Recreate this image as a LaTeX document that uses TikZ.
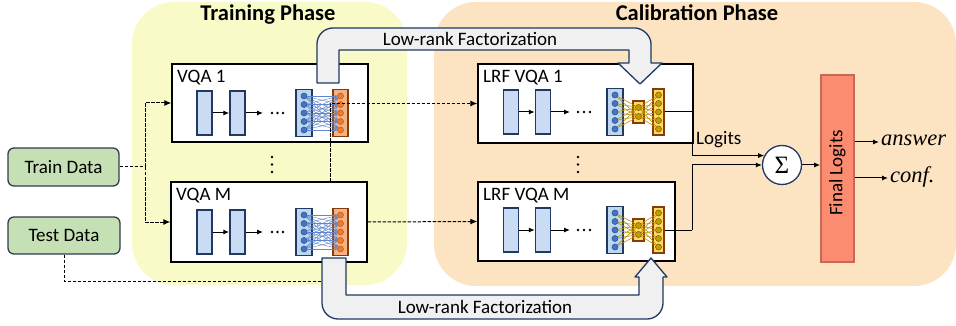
\documentclass[tikz,border=0pt]{standalone}
\usepackage{fontspec}
\setmainfont{Carlito}
\newfontfamily\sigfont{Liberation Serif}
\usetikzlibrary{arrows.meta,calc}

\definecolor{trainbg}{RGB}{248,250,200}
\definecolor{calibbg}{RGB}{252,228,194}
\definecolor{arrowgrey}{RGB}{240,240,240}
\definecolor{navy}{RGB}{31,56,100}
\definecolor{encfill}{RGB}{201,220,244}
\definecolor{layerblue}{RGB}{189,215,238}
\definecolor{dotblue}{RGB}{68,114,196}
\definecolor{dotblueedge}{RGB}{47,85,151}
\definecolor{layerorange}{RGB}{244,177,131}
\definecolor{brownedge}{RGB}{132,60,12}
\definecolor{dotorange}{RGB}{237,125,49}
\definecolor{dotorangeedge}{RGB}{197,90,17}
\definecolor{layergold}{RGB}{255,217,102}
\definecolor{dotgold}{RGB}{201,156,0}
\definecolor{dotgoldedge}{RGB}{127,96,0}
\definecolor{linkgold}{RGB}{191,144,0}
\definecolor{datagreen}{RGB}{197,224,180}
\definecolor{dataedge}{RGB}{50,62,78}
\definecolor{finalfill}{RGB}{252,140,112}
\definecolor{finaledge}{RGB}{196,104,88}

\tikzset{
  txt/.style={font=\fontsize{19}{22}\selectfont, inner sep=0pt},
  ttl/.style={font=\fontsize{22.5}{26}\selectfont\bfseries, inner sep=0pt},
  outtxt/.style={font=\sigfont\itshape\fontsize{22.5}{26}\selectfont, inner sep=0pt},
  datanode/.style={draw=dataedge, fill=datagreen, line width=1.3pt, rounded corners=6pt,
    font=\fontsize{19}{22}\selectfont, inner sep=0pt},
  modelbox/.style={draw=black, fill=white, line width=1.4pt, inner sep=0pt},
  encbox/.style={draw=navy, fill=encfill, line width=1.5pt, minimum width=15pt,
    minimum height=44pt, inner sep=0pt},
  bluelayer/.style={draw=navy, fill=layerblue, line width=1.6pt, minimum width=16pt,
    minimum height=47pt, inner sep=0pt},
  orangelayer/.style={draw=brownedge, fill=layerorange, line width=1.6pt, minimum width=15pt,
    minimum height=47pt, inner sep=0pt},
  goldlayer/.style={draw=brownedge, fill=layergold, line width=1.6pt, minimum width=11pt,
    minimum height=46pt, inner sep=0pt},
  goldmid/.style={goldlayer, minimum height=22pt},
  bluedot/.style={circle, draw=dotblueedge, fill=dotblue, line width=0.6pt, minimum size=6pt, inner sep=0pt},
  orangedot/.style={circle, draw=dotorangeedge, fill=dotorange, line width=0.6pt, minimum size=6pt, inner sep=0pt},
  golddot/.style={circle, draw=dotgoldedge, fill=dotgold, line width=0.6pt, minimum size=6pt, inner sep=0pt},
  bluelink/.style={draw=dotblue!85, line width=0.45pt, -{Stealth[length=2.6pt,width=2.6pt]}},
  goldlink/.style={draw=linkgold, line width=0.6pt},
  flow/.style={draw=black, line width=1pt, -{Latex[length=6pt,width=5pt]}},
  dashflow/.style={draw=black, line width=1pt, dash pattern=on 3.5pt off 1.5pt, -{Latex[length=7pt,width=6pt]}},
  dashline/.style={draw=black, line width=1pt, dash pattern=on 3.5pt off 1.5pt},
  bigarrow/.style={draw=navy, fill=arrowgrey, line width=1.3pt, line join=round},
}

% encoder stack plus the full layer of a VQA model: #1 name prefix, #2 centre y
\newcommand\vqanet[2]{%
  \node[encbox] (#1r1) at (204.5,#2) {};
  \node[encbox] (#1r2) at (237.5,#2) {};
  \draw[flow] (#1r1) -- (#1r2);
  \coordinate (#1e) at (263,#2);
  \draw[flow] (#1r2.east) -- (#1e);
  \foreach \dx in {272,277.5,283} \fill (\dx,#2) circle (1.3pt);
  \node[bluelayer] (#1b) at (304,#2) {};
  \node[orangelayer] (#1o) at (340.5,#2) {};
  \foreach \i in {1,...,5} {
    \node[bluedot] (#1b\i) at ({304},{#2+(\i-3)*8.5}) {};
    \node[orangedot] (#1o\i) at ({340.5},{#2+(\i-3)*8.5}) {};
  }
  \foreach \i in {1,...,5} \foreach \j in {1,...,5} \draw[bluelink] (#1b\i) -- (#1o\j);
}

% encoder stack plus the factorized layer pair of an LRF model
\newcommand\lrfnet[2]{%
  \node[encbox] (#1r1) at (511,#2) {};
  \node[encbox] (#1r2) at (543,#2) {};
  \draw[flow] (#1r1) -- (#1r2);
  \coordinate (#1e) at (570,#2);
  \draw[flow] (#1r2.east) -- (#1e);
  \foreach \dx in {578,584,590} \fill (\dx,#2) circle (1.3pt);
  \node[bluelayer] (#1b) at (615,#2) {};
  \node[goldmid] (#1m) at (638.5,#2) {};
  \node[goldlayer] (#1o) at (658.5,#2) {};
  \foreach \i in {1,...,5} {
    \node[bluedot] (#1b\i) at ({615},{#2+(\i-3)*8.5}) {};
    \node[golddot] (#1o\i) at ({658.5},{#2+(\i-3)*8.5}) {};
  }
  \node[golddot] (#1m1) at ({638.5},{#2-4.5}) {};
  \node[golddot] (#1m2) at ({638.5},{#2+4.5}) {};
  \foreach \i in {1,...,5} \foreach \j in {1,2} {
    \draw[goldlink] (#1b\i) -- (#1m\j);
    \draw[goldlink] (#1m\j) -- (#1o\i);
  }
}

\begin{document}
\begin{tikzpicture}[x=1pt,y=-1pt]
\useasboundingbox (0,0) rectangle (956,326);

% phase backgrounds
\fill[trainbg, rounded corners=42pt] (132,2) rectangle (407,285);
\fill[calibbg, rounded corners=42pt] (434,2) rectangle (956,286);
\node[ttl, anchor=base] (ttrain) at (268,21) {Training Phase};
\node[ttl, anchor=base] (tcalib) at (697,21) {Calibration Phase};

% data sources
\node[datanode, minimum width=111pt, minimum height=38pt] (train) at (63.5,167) {Train Data};
\node[datanode, minimum width=112pt, minimum height=37pt] (test) at (64,235.5) {Test Data};

% models
\node[modelbox, minimum width=196pt, minimum height=78pt] (vqa1) at (270,103) {};
\node[modelbox, minimum width=196pt, minimum height=80pt] (vqaM) at (269,222) {};
\node[modelbox, minimum width=215pt, minimum height=79pt] (lrf1) at (585.5,103.5) {};
\node[modelbox, minimum width=197pt, minimum height=79pt] (lrfM) at (576.5,221.5) {};
\node[txt, anchor=north west] (vqa1lab) at (177,70) {VQA 1};
\node[txt, anchor=north west] (vqaMlab) at (176,188) {VQA M};
\node[txt, anchor=north west] (lrf1lab) at (483,70) {LRF VQA 1};
\node[txt, anchor=north west] (lrfMlab) at (483,188) {LRF VQA M};

\vqanet{va}{113}
\vqanet{vm}{232}
\lrfnet{la}{112}
\lrfnet{lm}{230}

% vertical ellipses between model 1 and model M
\foreach \yy in {157,164.5,172} {
  \fill (272,\yy) circle (1.4pt);
  \fill (578,\yy) circle (1.4pt);
}

% data flow
\coordinate (split) at (145,167);
\draw[dashline] (train.east) -- (split);
\draw[dashflow] (split) |- (vqa1.west);
\draw[dashflow] (split) |- (vqaM.west);
\coordinate (testend) at (330,281);
\draw[dashline] (test.south) |- (testend);
\coordinate (tap) at (330,182);
\draw[dashflow] (tap) |- (lrf1.west);
\draw[dashflow] (vqaM.east) -- (lrfM.west);

% low-rank factorization arrows
\draw[bigarrow] (339,83) -- (339,50) -- (629,50) -- (629,63) -- (618,63) -- (640,84)
  -- (662,63) -- (651,63) -- (651,44) .. controls (651,35.2) and (642.2,28) .. (635,28)
  -- (333,28) .. controls (324.2,28) and (317,35.2) .. (317,44) -- (317,83) -- cycle;
\node[txt] (lrtop) at (470,39) {Low-rank Factorization};
\draw[bigarrow] (346,258) -- (346,295) -- (639,295) -- (639,277) -- (635,277) -- (651,258)
  -- (667,277) -- (663,277) -- (663,303) .. controls (663,311.8) and (655.8,319) .. (647,319)
  -- (338,319) .. controls (329.2,319) and (322,311.8) .. (322,303) -- (322,258) -- cycle;
\node[txt] (lrbot) at (485,306.5) {Low-rank Factorization};

% aggregation
\node[circle, draw=navy, fill=white, line width=1.3pt, minimum size=39pt, inner sep=0pt] (sigma) at (782,165) {};
\node[font=\sigfont\fontsize{25}{28}\selectfont, inner sep=0pt] (sigmasym) at (782,165) {Σ};
\coordinate (j1) at (692,112);
\coordinate (j2) at (692,230);
\draw[draw=black, line width=1pt] (lao.east) -- (j1);
\draw[flow] (j1) |- (sigma.152);
\draw[draw=black, line width=1pt] (lmo.east) -- (j2);
\draw[flow] (j2) |- (sigma.west);
\node[txt, anchor=base west] (logits) at (696,145) {Logits};

\node[draw=finaledge, fill=finalfill, line width=1.6pt, minimum width=33pt, minimum height=187pt,
  inner sep=0pt] (final) at (837.5,168.5) {};
\node[txt, rotate=90] (finallab) at (837.5,173) {Final Logits};
\draw[flow] (sigma.east) -- (sigma.east -| final.west);

% outputs
\coordinate (ansin) at (879,142);
\coordinate (cnfin) at (888,178);
\node[outtxt, anchor=base west] (ans) at (881,146) {answer};
\node[outtxt, anchor=base west] (cnf) at (890,182.5) {conf.};
\draw[flow] (final.east |- ansin) -- (ansin);
\draw[flow] (final.east |- cnfin) -- (cnfin);
\end{tikzpicture}
\end{document}
